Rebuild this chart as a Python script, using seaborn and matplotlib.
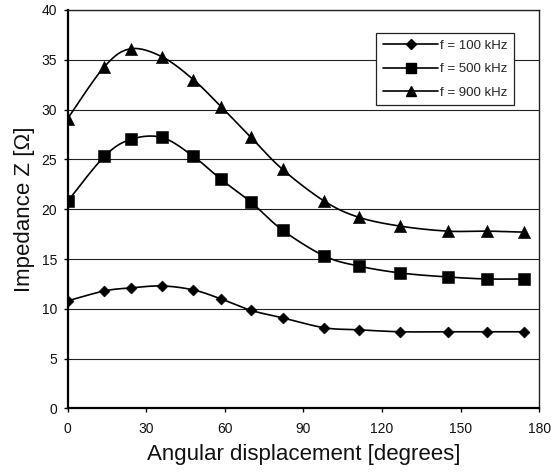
import numpy as np
import pandas as pd
import matplotlib
matplotlib.use("Agg")
import matplotlib.pyplot as plt
import seaborn as sns
from matplotlib.lines import Line2D

# ---- data ----
angle = [0, 14, 24, 36, 48, 58.5, 70, 82, 98, 111, 127, 145, 160, 174]
z_100k = [10.8, 11.8, 12.1, 12.3, 11.9, 11.0, 9.85, 9.1, 8.1, 7.9, 7.7, 7.7, 7.7, 7.7]
z_500k = [20.8, 25.3, 27.0, 27.2, 25.3, 23.0, 20.7, 17.9, 15.3, 14.3, 13.6, 13.2, 13.0, 13.0]
z_900k = [29.1, 34.3, 36.1, 35.3, 33.0, 30.3, 27.2, 24.0, 20.8, 19.2, 18.3, 17.8, 17.8, 17.7]
series_labels = ["f = 100 kHz", "f = 500 kHz", "f = 900 kHz"]
x_ticks = [0, 30, 60, 90, 120, 150, 180]
y_ticks = [0, 5, 10, 15, 20, 25, 30, 35, 40]

markers = {"f = 100 kHz": "D", "f = 500 kHz": "s", "f = 900 kHz": "^"}
marker_sizes = {"f = 100 kHz": 5.6, "f = 500 kHz": 8.2, "f = 900 kHz": 8.8}

rows = []
for lab, vals in zip(series_labels, [z_100k, z_500k, z_900k]):
    for a, v in zip(angle, vals):
        rows.append({"angle": a, "Z": v, "series": lab})
df = pd.DataFrame(rows)


def smooth_curve(xs, ys, n=30):
    """Excel-like smoothed line (uniform Catmull-Rom / Bezier, tension 1/6)."""
    P = np.column_stack([xs, ys]).astype(float)
    out = [P[0]]
    t = np.linspace(0, 1, n)[1:]
    for i in range(len(P) - 1):
        p0 = P[i - 1] if i > 0 else P[i]
        p1, p2 = P[i], P[i + 1]
        p3 = P[i + 2] if i + 2 < len(P) else P[i + 1]
        c1 = p1 + (p2 - p0) / 6.0
        c2 = p2 - (p3 - p1) / 6.0
        for tt in t:
            b = ((1 - tt) ** 3) * p1 + 3 * ((1 - tt) ** 2) * tt * c1 + 3 * (1 - tt) * tt ** 2 * c2 + tt ** 3 * p2
            out.append(b)
    out = np.array(out)
    return out[:, 0], out[:, 1]


sns.set_theme(style="white")
plt.rcParams["font.family"] = ["Liberation Sans", "DejaVu Sans"]

fig = plt.figure(figsize=(5.52, 4.74), dpi=100)
ax = fig.add_axes([0.1226, 0.1382, 0.977 - 0.1226, 0.979 - 0.1382])

for lab in series_labels:
    sub = df[df["series"] == lab]
    sx, sy = smooth_curve(sub["angle"].values, sub["Z"].values)
    sdf = pd.DataFrame({"angle": sx, "Z": sy})
    sns.lineplot(data=sdf, x="angle", y="Z", sort=False, estimator=None,
                 color="black", linewidth=1.2, ax=ax, zorder=3)
    sns.scatterplot(data=sub, x="angle", y="Z", marker=markers[lab],
                    s=marker_sizes[lab] ** 2, color="black", edgecolor="black",
                    linewidth=0.4, ax=ax, zorder=4, legend=False)

ax.set_xlim(0, 180)
ax.set_ylim(0, 40)
ax.set_xticks(x_ticks)
ax.set_yticks(y_ticks)
ax.set_xticklabels([str(v) for v in x_ticks])
ax.set_yticklabels([str(v) for v in y_ticks])
ax.yaxis.grid(True, color="#222222", linewidth=0.8)
ax.xaxis.grid(False)
ax.set_axisbelow(True)

for side in ["left", "bottom"]:
    ax.spines[side].set_color("black")
    ax.spines[side].set_linewidth(1.6)
for side in ["top", "right"]:
    ax.spines[side].set_color("#222222")
    ax.spines[side].set_linewidth(1.0)

ax.tick_params(axis="both", which="major", direction="out", length=3.0, width=1.0,
               color="black", labelsize=10, labelcolor="#111111",
               bottom=True, left=True)
ax.tick_params(axis="x", pad=6.5)
ax.tick_params(axis="y", pad=4.5)

ax.set_xlabel("Angular displacement [degrees]", fontsize=16, color="#111111", labelpad=6)
ax.set_ylabel("Impedance Z [\u03A9]", fontsize=16, color="#111111", labelpad=5)

handles = [Line2D([], [], color="black", linewidth=1.2, marker=markers[l],
                  markersize=(marker_sizes[l] * (0.8 if markers[l] != "D" else 0.85)),
                  markerfacecolor="black", markeredgecolor="black")
           for l in series_labels]
leg = ax.legend(handles, series_labels, loc="upper right",
                bbox_to_anchor=(0.946, 0.942), fontsize=9.5, frameon=True,
                fancybox=False, shadow=False, edgecolor="#222222", facecolor="white",
                framealpha=1.0, handlelength=4.2, handletextpad=0.1,
                labelspacing=0.85, borderpad=0.5, borderaxespad=0.0)
leg.get_frame().set_linewidth(0.9)
leg.set_zorder(10)

fig.savefig("out.png", dpi=100)
